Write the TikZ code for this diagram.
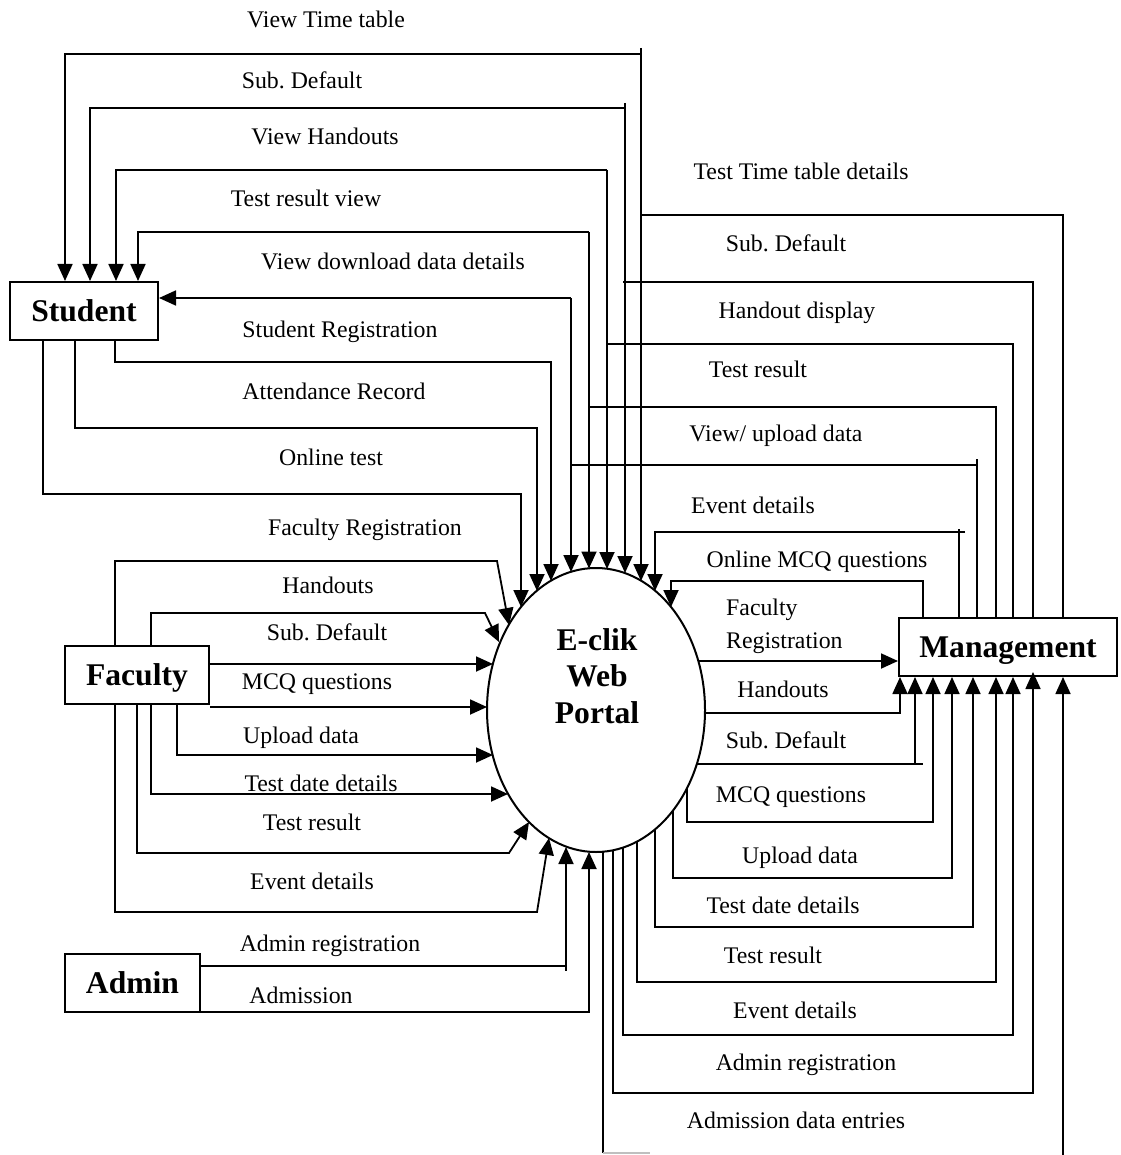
\documentclass[tikz,border=0pt]{standalone}
\usepackage{fontspec}
\setmainfont{Liberation Serif}
\usetikzlibrary{arrows.meta,shapes.geometric}
\newcommand\lbfont{\fontsize{23.8}{28}\selectfont}
\newcommand\bxfont{\fontsize{31.6}{36.5}\selectfont\bfseries}
\frenchspacing
\begin{document}
\begin{tikzpicture}[x=1pt,y=-1pt,
  ln/.style={line width=1.8pt},
  thinln/.style={line width=1.6pt},
  arr/.style={ln,-{Triangle[length=17pt,width=15pt]}},
  arrt/.style={thinln,-{Triangle[length=17pt,width=15pt]}},
  lbl/.style={font=\lbfont, inner sep=0pt, text height=16pt, text depth=0pt},
  ent/.style={draw, line width=2pt, font=\bxfont, inner sep=0pt, text height=21pt, text depth=0pt, minimum height=58pt}]
\useasboundingbox (0,0) rectangle (1120,1155);

% entities
\node[ent, minimum width=148pt] (student) at (84,311) {Student};
\node[ent, minimum width=144pt] (faculty) at (137,675) {Faculty};
\node[ent, minimum width=135pt] (admin) at (132.5,983) {Admin};
\node[ent, minimum width=218pt] (mgmt) at (1008,647) {Management};
\node[draw, ellipse, line width=2pt, minimum width=218pt, minimum height=284pt, inner sep=0pt] (portal) at (596,710) {};
\node[font=\bxfont, align=center, inner sep=0pt] (ptext) at (597,676) {E-clik\\Web\\Portal};

% attachment points on the portal border
\coordinate (t521) at (521,607);
\coordinate (t537) at (537,591);
\coordinate (t551) at (551,581);
\coordinate (t571) at (571,572);
\coordinate (t589) at (589,568.5);
\coordinate (t607) at (607,569);
\coordinate (t625) at (625,573);
\coordinate (t641) at (641,581);
\coordinate (t655) at (655,591);
\coordinate (t671) at (671,607);
\coordinate (f1) at (509,625);
\coordinate (f2) at (499,642);
\coordinate (f3) at (493,664);
\coordinate (f4) at (487,707);
\coordinate (f5) at (493,755);
\coordinate (f6) at (508,794);
\coordinate (f7) at (529,822);
\coordinate (f8) at (549,838);
\coordinate (a1) at (566,847);
\coordinate (a2) at (589,852);
\coordinate (r1) at (698,661);
\coordinate (r2) at (705,713);
\coordinate (r3) at (697,764);
\coordinate (b687) at (687,788);
\coordinate (b673) at (673,811);
\coordinate (b655) at (655,829);
\coordinate (b637) at (637,842);
\coordinate (b623) at (623,848);
\coordinate (b613) at (613,850);
\coordinate (b603) at (603,852);

% Student top flows
\draw[arr] (641,54) -| (65,0 |- student.north);
\draw[arr] (625,108) -| (90,0 |- student.north);
\draw[arr] (607,170) -| (116,0 |- student.north);
\draw[arr] (589,232) -| (138,0 |- student.north);
\draw[arr] (571,298) -- (student.east |- 0,298);
\draw[arr] (641,48) -- (t641);
\draw[arr] (625,103) -- (t625);
\draw[arr] (607,170) -- (t607);
\draw[arr] (589,232) -- (t589);
\draw[arr] (571,298) -- (t571);

% Student bottom flows
\draw[arr] (115,0 |- student.south) |- (551,362) -- (t551);
\draw[arr] (75,0 |- student.south) |- (537,428) -- (t537);
\draw[arr] (43,0 |- student.south) |- (521,494) -- (t521);

% Faculty flows
\draw[arr] (115,0 |- faculty.north) |- (497,561) -- (f1);
\draw[arr] (151,0 |- faculty.north) |- (485,613) -- (f2);
\draw[arr] (faculty.east |- 0,664) -- (f3);
\draw[arr] (faculty.east |- 0,707) -- (f4);
\draw[arr] (177,0 |- faculty.south) |- (f5);
\draw[arr] (151,0 |- faculty.south) |- (f6);
\draw[arr] (137,0 |- faculty.south) |- (509,853) -- (f7);
\draw[arr] (115,0 |- faculty.south) |- (537,912) -- (f8);

% Admin flows
\draw[arr] (admin.east |- 0,966) -| (a1);
\draw[ln] (566,966) -- (566,971);
\draw[arr] (admin.east |- 0,1012) -| (a2);

% Management top flows
\draw[thinln] (641,215) -| (1063,0 |- mgmt.north);
\draw[thinln] (623,282) -| (1033,0 |- mgmt.north);
\draw[thinln] (607,344) -| (1013,0 |- mgmt.north);
\draw[thinln] (589,407) -| (996,0 |- mgmt.north);
\draw[thinln] (571,465) -| (977,0 |- mgmt.north);
\draw[thinln] (977,459) -- (977,465);
\draw[thinln] (959,0 |- mgmt.north) -- (959,529);
\draw[arr] (965,532) -- (655,532) -- (t655);
\draw[arr] (923,0 |- mgmt.north) |- (671,581) -- (t671);

% Management left / bottom flows
\draw[arr] (r1) -- (mgmt.west |- r1);
\draw[arr] (r2) -- (900,713) -- (900,0 |- mgmt.south);
\draw[thinln] (r3) -- (923,764);
\draw[arrt] (915,764) -- (915,0 |- mgmt.south);
\draw[arrt] (b687) |- (933,822) -- (933,0 |- mgmt.south);
\draw[arrt] (b673) |- (952,878) -- (952,0 |- mgmt.south);
\draw[arrt] (b655) |- (973,927) -- (973,0 |- mgmt.south);
\draw[arrt] (b637) |- (996,982) -- (996,0 |- mgmt.south);
\draw[arrt] (b623) |- (1013,1035) -- (1013,0 |- mgmt.south);
\draw[arrt] (b613) |- (1033,1093) -- (1033,672);
\draw[thinln] (b603) -- (603,1153);
\draw[gray!50, line width=1.6pt] (603,1153) -- (650,1153);
\draw[arrt] (1063,1155) -- (1063,0 |- mgmt.south);

% labels, left
\node[lbl] (l1) at (326,20) {View Time table};
\node[lbl] (l2) at (302,81) {Sub. Default};
\node[lbl] (l3) at (325,137) {View Handouts};
\node[lbl] (l4) at (306,199) {Test result view};
\node[lbl] (l5) at (393,262) {View download data details};
\node[lbl] (l6) at (340,329) {Student Registration};
\node[lbl] (l7) at (334,391) {Attendance Record};
\node[lbl] (l8) at (331,457) {Online test};
\node[lbl] (l9) at (365,527) {Faculty Registration};
\node[lbl] (l10) at (328,585) {Handouts};
\node[lbl] (l11) at (327,632) {Sub. Default};
\node[lbl] (l12) at (317,681) {MCQ questions};
\node[lbl] (l13) at (301,735) {Upload data};
\node[lbl] (l14) at (321,783) {Test date details};
\node[lbl] (l15) at (312,822) {Test result};
\node[lbl] (l16) at (312,881) {Event details};
\node[lbl] (l17) at (330,943) {Admin registration};
\node[lbl] (l18) at (301,995) {Admission};

% labels, right
\node[lbl] (r_1) at (801,172) {Test Time table details};
\node[lbl] (r_2) at (786,244) {Sub. Default};
\node[lbl] (r_3) at (797,310) {Handout display};
\node[lbl] (r_4) at (758,369) {Test result};
\node[lbl] (r_5) at (776,433) {View/ upload data};
\node[lbl] (r_6) at (753,505) {Event details};
\node[lbl] (r_7) at (817,559) {Online MCQ questions};
\node[lbl, anchor=west] (r_8a) at (726,607) {Faculty};
\node[lbl, anchor=west] (r_8b) at (726,640) {Registration};
\node[lbl] (r_9) at (783,689) {Handouts};
\node[lbl] (r_10) at (786,740) {Sub. Default};
\node[lbl] (r_11) at (791,794) {MCQ questions};
\node[lbl] (r_12) at (800,855) {Upload data};
\node[lbl] (r_13) at (783,905) {Test date details};
\node[lbl] (r_14) at (773,955) {Test result};
\node[lbl] (r_15) at (795,1010) {Event details};
\node[lbl] (r_16) at (806,1062) {Admin registration};
\node[lbl] (r_17) at (796,1120) {Admission data entries};
\end{tikzpicture}
\end{document}
